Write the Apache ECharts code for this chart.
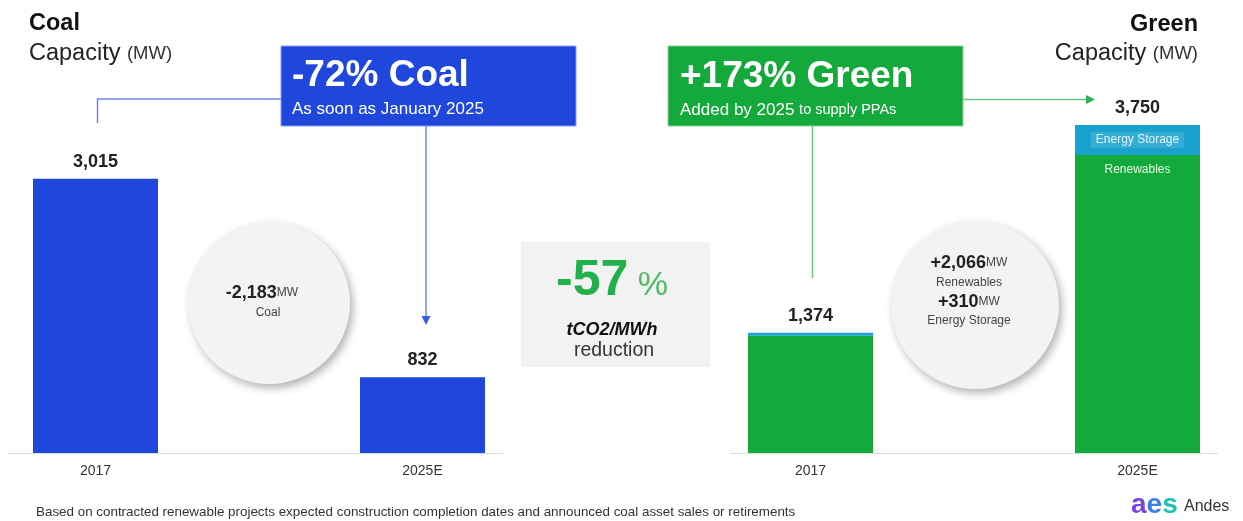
<!DOCTYPE html>
<html><head><meta charset="utf-8">
<script src="https://cdn.jsdelivr.net/npm/echarts@6/dist/echarts.min.js"></script>
<style>html,body{margin:0;padding:0;background:#fff}#c{width:1243px;height:521px}</style>
</head><body><div id="c"></div>
<script>
// ---- data ----
const categories = ['2017', '2025E'];
const coalValues = [3015, 832];
const coalLabels = ['3,015', '832'];
const renewableValues = [1340, 3406];
const storageValues = [34, 344];
const greenTotalLabels = ['1,374', '3,750'];

const FONT = "'Liberation Sans', Arial, Helvetica, sans-serif";
const BLUE = '#2047dc';
const GREEN = '#14a93b';
const TEAL = '#1aa2cf';

function txt(x, y, text, o) {
  o = o || {};
  return {
    type: 'text', x: x, y: y, silent: true, z: 10,
    style: Object.assign({
      text: text, fill: o.fill || '#222', fontFamily: FONT,
      fontSize: o.fontSize || 14, fontWeight: o.fontWeight || 'normal',
      fontStyle: o.fontStyle || 'normal',
      align: o.align || 'left', textAlign: o.align || 'left',
      verticalAlign: 'middle', textVerticalAlign: 'middle'
    }, o.rich ? { rich: o.rich } : {})
  };
}

const chart = echarts.init(document.getElementById('c'), null, { renderer: 'canvas' });

const axisX = (gi) => ({
  type: 'category', gridIndex: gi, data: categories, boundaryGap: false,
  axisLine: { show: false }, axisTick: { show: false },
  axisLabel: { color: '#333', fontSize: 14, fontFamily: FONT, margin: 11 }
});
const axisY = (gi) => ({
  type: 'value', gridIndex: gi, min: 0, max: 4000, show: false, splitLine: { show: false }
});

const graphic = [
  // baselines
  { type: 'line', shape: { x1: 8, y1: 453.5, x2: 503, y2: 453.5 }, style: { stroke: '#dcdcdc', lineWidth: 1 }, silent: true },
  { type: 'line', shape: { x1: 730, y1: 453.5, x2: 1218, y2: 453.5 }, style: { stroke: '#dcdcdc', lineWidth: 1 }, silent: true },
  // titles
  txt(29, 24, 'Coal', { fontSize: 23.5, fontWeight: 'bold', fill: '#111' }),
  txt(29, 54, '{a|Capacity }{b|(MW)}', { rich: {
    a: { fontSize: 23.5, fontFamily: FONT, fill: '#222' },
    b: { fontSize: 18.5, fontFamily: FONT, fill: '#333' } } }),
  txt(1198, 25, 'Green', { fontSize: 23.5, fontWeight: 'bold', fill: '#111', align: 'right' }),
  txt(1198, 54, '{a|Capacity }{b|(MW)}', { align: 'right', rich: {
    a: { fontSize: 23.5, fontFamily: FONT, fill: '#222' },
    b: { fontSize: 18.5, fontFamily: FONT, fill: '#333' } } }),
  // connectors (blue)
  { type: 'polyline', shape: { points: [[97.5, 123], [97.5, 99], [281, 99]] }, style: { stroke: '#6f87ea', lineWidth: 1.5, fill: null }, silent: true },
  { type: 'line', shape: { x1: 426, y1: 126, x2: 426, y2: 318 }, style: { stroke: '#6f87ea', lineWidth: 1.5 }, silent: true },
  { type: 'polygon', shape: { points: [[421.5, 316], [430.5, 316], [426, 325]] }, style: { fill: '#3b5de0' }, silent: true },
  // connectors (green)
  { type: 'line', shape: { x1: 963, y1: 99.5, x2: 1088, y2: 99.5 }, style: { stroke: '#6cc483', lineWidth: 1.5 }, silent: true },
  { type: 'polygon', shape: { points: [[1086, 95], [1086, 104], [1095, 99.5]] }, style: { fill: '#2fae52' }, silent: true },
  { type: 'line', shape: { x1: 812.5, y1: 126, x2: 812.5, y2: 278 }, style: { stroke: '#6cc483', lineWidth: 1.5 }, silent: true },
  // blue box
  { type: 'rect', shape: { x: 281, y: 46, width: 295, height: 80 }, style: { fill: BLUE, stroke: '#8aa0f0', lineWidth: 1 }, silent: true },
  txt(292, 75.5, '-72% Coal', { fontSize: 37, fontWeight: 'bold', fill: '#fff' }),
  txt(292, 109, 'As soon as January 2025', { fontSize: 17, fill: '#fff' }),
  // green box
  { type: 'rect', shape: { x: 668, y: 46, width: 295, height: 80 }, style: { fill: GREEN, stroke: '#8ad39d', lineWidth: 1 }, silent: true },
  txt(680, 76.5, '+173% Green', { fontSize: 37, fontWeight: 'bold', fill: '#fff' }),
  txt(680, 110, '{a|Added by 2025 }{b|to supply PPAs}', { rich: {
    a: { fontSize: 17, fontFamily: FONT, fill: '#fff' },
    b: { fontSize: 14.5, fontFamily: FONT, fill: '#fff' } } }),
  // circles
  { type: 'circle', shape: { cx: 269, cy: 303, r: 81 }, style: { fill: '#f3f3f3', shadowBlur: 8, shadowOffsetX: 3, shadowOffsetY: 4, shadowColor: 'rgba(0,0,0,0.3)' }, silent: true },
  txt(262, 293, '{a|-2,183}{b|MW}', { align: 'center', rich: {
    a: { fontSize: 18, fontWeight: 'bold', fontFamily: FONT, fill: '#222' },
    b: { fontSize: 12, fontFamily: FONT, fill: '#444' } } }),
  txt(268, 313, 'Coal', { align: 'center', fontSize: 12, fill: '#444' }),
  { type: 'circle', shape: { cx: 975, cy: 305, r: 84 }, style: { fill: '#f3f3f3', shadowBlur: 8, shadowOffsetX: 3, shadowOffsetY: 4, shadowColor: 'rgba(0,0,0,0.3)' }, silent: true },
  txt(969, 263, '{a|+2,066}{b|MW}', { align: 'center', rich: {
    a: { fontSize: 18, fontWeight: 'bold', fontFamily: FONT, fill: '#222' },
    b: { fontSize: 12, fontFamily: FONT, fill: '#444' } } }),
  txt(969, 283, 'Renewables', { align: 'center', fontSize: 12, fill: '#444' }),
  txt(969, 302, '{a|+310}{b|MW}', { align: 'center', rich: {
    a: { fontSize: 18, fontWeight: 'bold', fontFamily: FONT, fill: '#222' },
    b: { fontSize: 12, fontFamily: FONT, fill: '#444' } } }),
  txt(969, 321, 'Energy Storage', { align: 'center', fontSize: 12, fill: '#444' }),
  // center box
  { type: 'rect', shape: { x: 521, y: 242, width: 189, height: 125 }, style: { fill: '#f2f2f2' }, silent: true },
  txt(556, 281, '{a|-57}{b| %}', { rich: {
    a: { fontSize: 50, fontWeight: 'bold', fontFamily: FONT, fill: '#21b14b' },
    b: { fontSize: 34, fontFamily: FONT, fill: '#4dbb64', verticalAlign: 'bottom', padding: [0, 0, 3, 0] } } }),
  txt(612, 330, 'tCO2/MWh', { align: 'center', fontSize: 18, fontWeight: 'bold', fontStyle: 'italic', fill: '#111' }),
  txt(614, 351, 'reduction', { align: 'center', fontSize: 19.5, fill: '#333' }),
  // footnote
  txt(36, 512, 'Based on contracted renewable projects expected construction completion dates and announced coal asset sales or retirements', { fontSize: 13.4, fill: '#333' }),
  // logo
  txt(1131, 505, '{p|a}{b|e}{t|s}', { rich: {
    p: { fontSize: 28, fontWeight: 'bold', fontFamily: FONT, fill: '#7345e6' },
    b: { fontSize: 28, fontWeight: 'bold', fontFamily: FONT, fill: '#3b7ee6' },
    t: { fontSize: 28, fontWeight: 'bold', fontFamily: FONT, fill: '#1ec2b4' } } }),
  txt(1184, 507, 'Andes', { fontSize: 16, fill: '#333' })
];

chart.setOption({
  animation: false,
  backgroundColor: '#fff',
  grid: [
    { left: 95.5, right: 820.5, top: 89, bottom: 68 },
    { left: 810.5, right: 105.5, top: 103, bottom: 68 }
  ],
  xAxis: [axisX(0), axisX(1)],
  yAxis: [axisY(0), axisY(1)],
  series: [
    {
      type: 'bar', xAxisIndex: 0, yAxisIndex: 0, barWidth: 125, clip: false,
      data: coalValues, itemStyle: { color: BLUE },
      label: { show: true, position: 'top', distance: 8, fontSize: 18, fontWeight: 'bold', fontFamily: FONT, color: '#222',
        formatter: (p) => coalLabels[p.dataIndex] }
    },
    {
      type: 'bar', xAxisIndex: 1, yAxisIndex: 1, barWidth: 125, clip: false, stack: 'g',
      data: renewableValues.map((v, i) => i === 1 ? { value: v, label: { show: true } } : { value: v }),
      itemStyle: { color: GREEN },
      label: { show: false, position: 'insideTop', distance: 9, fontSize: 12, fontFamily: FONT, color: '#eafbe9', formatter: 'Renewables' }
    },
    {
      type: 'bar', xAxisIndex: 1, yAxisIndex: 1, barWidth: 125, clip: false, stack: 'g',
      data: storageValues.map((v, i) => i === 1 ? { value: v, label: { show: true } } : { value: v }),
      itemStyle: { color: TEAL },
      label: { show: false, position: 'inside', fontSize: 12, fontFamily: FONT, color: '#e6f4fa',
        backgroundColor: 'rgba(255,255,255,0.12)', padding: [2, 5], formatter: 'Energy Storage' }
    },
    {
      type: 'bar', xAxisIndex: 1, yAxisIndex: 1, barWidth: 125, clip: false, stack: 'g',
      data: [0, 0], itemStyle: { color: 'transparent' },
      label: { show: true, position: 'top', distance: 8, fontSize: 18, fontWeight: 'bold', fontFamily: FONT, color: '#222',
        formatter: (p) => greenTotalLabels[p.dataIndex] }
    }
  ],
  graphic: graphic
});
</script>
</body></html>
